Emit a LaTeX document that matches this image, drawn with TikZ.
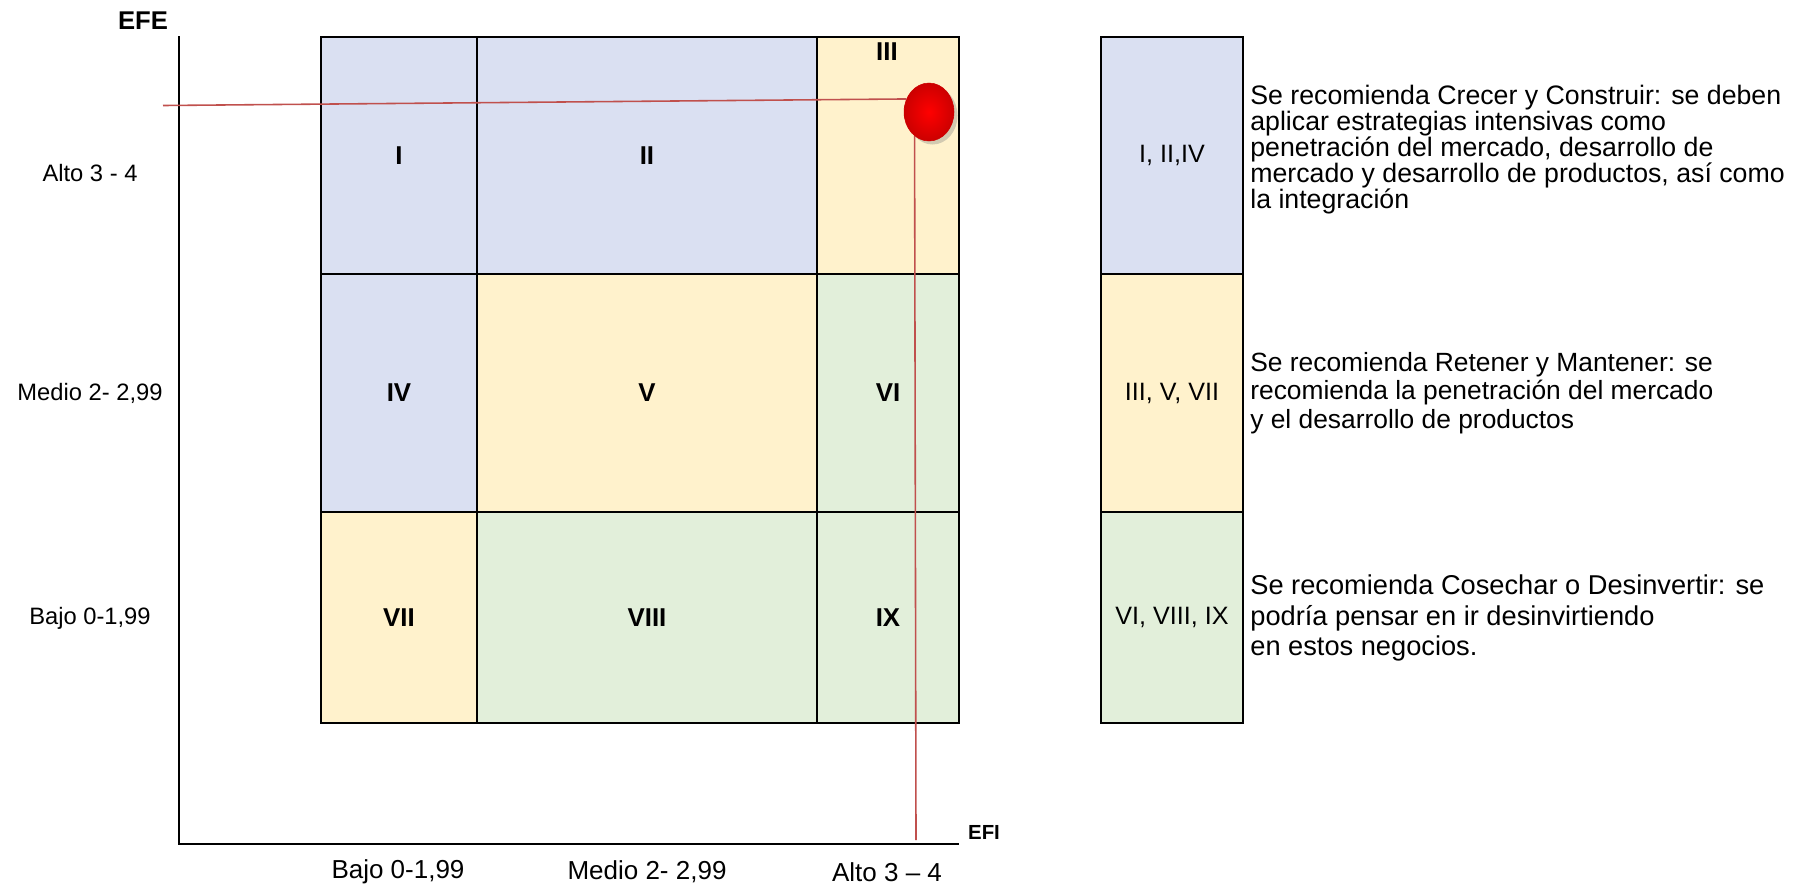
\documentclass[tikz,border=0pt]{standalone}
\usepackage{fontspec}
\setmainfont{Liberation Sans}
\usepackage{tikz}
\usetikzlibrary{shadows,shapes.geometric}

\definecolor{cellblue}{RGB}{218,224,242}
\definecolor{cellyellow}{RGB}{255,242,204}
\definecolor{cellgreen}{RGB}{226,239,218}
\definecolor{linered}{RGB}{192,80,77}

\begin{document}
\begin{tikzpicture}[x=0.02cm, y=-0.02cm, line join=miter, font=\fontsize{13.5}{16}\selectfont]

        \tikzstyle{cell}=[draw=black, line width=1.1pt, anchor=north west, outer sep=0pt, inner sep=0pt, font=\fontsize{14.7}{17}\selectfont\bfseries]
        \tikzstyle{key}=[cell, font=\fontsize{14.3}{16}\selectfont, minimum width=2.84cm]
        \tikzstyle{advice}=[anchor=west, align=left, inner sep=0pt]
        \tikzstyle{tick}=[font=\fontsize{14.8}{17}\selectfont]
        \tikzstyle{axis}=[draw=black, line width=1.2pt]
        \tikzstyle{guide}=[draw=linered, line width=0.9pt]

        \useasboundingbox (0,0) rectangle (1805,887);

        % matriz
        \node[cell, fill=cellblue,   minimum width=3.12cm, minimum height=4.74cm] (cI)    at (321,37)  {I};
        \node[cell, fill=cellblue,   minimum width=6.80cm, minimum height=4.74cm] (cII)   at (477,37)  {II};
        \node[cell, fill=cellyellow, minimum width=2.84cm, minimum height=4.74cm] (cIII)  at (817,37)  {};
        \node[cell, fill=cellblue,   minimum width=3.12cm, minimum height=4.76cm] (cIV)   at (321,274) {IV};
        \node[cell, fill=cellyellow, minimum width=6.80cm, minimum height=4.76cm] (cV)    at (477,274) {V};
        \node[cell, fill=cellgreen,  minimum width=2.84cm, minimum height=4.76cm] (cVI)   at (817,274) {VI};
        \node[cell, fill=cellyellow, minimum width=3.12cm, minimum height=4.22cm] (cVII)  at (321,512) {VII};
        \node[cell, fill=cellgreen,  minimum width=6.80cm, minimum height=4.22cm] (cVIII) at (477,512) {VIII};
        \node[cell, fill=cellgreen,  minimum width=2.84cm, minimum height=4.22cm] (cIX)   at (817,512) {IX};
        \node[font=\fontsize{14.7}{17}\selectfont\bfseries] (lblIII) at (887,52) {III};

        % ejes
        \coordinate (ytop)   at (179,36);
        \coordinate (origin) at (179,844);
        \coordinate (xend)   at (959,844);
        \draw[axis] (ytop) -- (origin) -- (xend);

        \node[font=\fontsize{14.6}{17}\selectfont\bfseries] (efe) at (143,21)  {EFE};
        \node[font=\fontsize{11.6}{14}\selectfont\bfseries] (efi) at (984,832) {EFI};

        \node (yAlto)  at (90,173)  {Alto 3 - 4};
        \node (yMedio) at (90,393)  {Medio 2- 2,99};
        \node (yBajo)  at (90,618)  {Bajo 0-1,99};
        \node[tick] (xBajo)  at (398,872) {Bajo 0-1,99};
        \node[tick] (xMedio) at (647,872) {Medio 2- 2,99};
        \node[tick] (xAlto)  at (887,872) {Alto 3 – 4};

        % posicion de la empresa
        \coordinate (hstart) at (163,105.5);
        \coordinate (vend)   at (916,840);
        \node[ellipse, minimum width=1cm, minimum height=1.16cm, inner sep=0pt, draw=red!80!black, line width=0.3pt,
              inner color=red, outer color=red!80!black, drop shadow={opacity=0.35, shadow xshift=2pt, shadow yshift=-2pt}] (dot) at (929,112) {};
        \path[guide]
        (hstart) edge (dot.150)
        (dot.239) edge (vend);

        % leyenda
        \node[key, fill=cellblue,   minimum height=4.74cm] (kGrow)    at (1101,37)  {I, II,IV};
        \node[key, fill=cellyellow, minimum height=4.76cm] (kHold)    at (1101,274) {III, V, VII};
        \node[key, fill=cellgreen,  minimum height=4.22cm] (kHarvest) at (1101,512) {VI, VIII, IX};

        \node[advice, font=\fontsize{15.2}{14.8}\selectfont] (tGrow) at (1250,150) {Se recomienda Crecer y Construir: se deben\\aplicar estrategias intensivas como\\penetración del mercado, desarrollo de\\mercado y desarrollo de productos, así como\\la integración};
        \node[advice, font=\fontsize{15}{16.4}\selectfont] (tHold) at (1250,393) {Se recomienda Retener y Mantener: se\\recomienda la penetración del mercado\\y el desarrollo de productos};
        \node[advice, font=\fontsize{15.5}{17.2}\selectfont] (tHarvest) at (1250,618) {Se recomienda Cosechar o Desinvertir: se\\podría pensar en ir desinvirtiendo\\en estos negocios.};

\end{tikzpicture}
\end{document}
